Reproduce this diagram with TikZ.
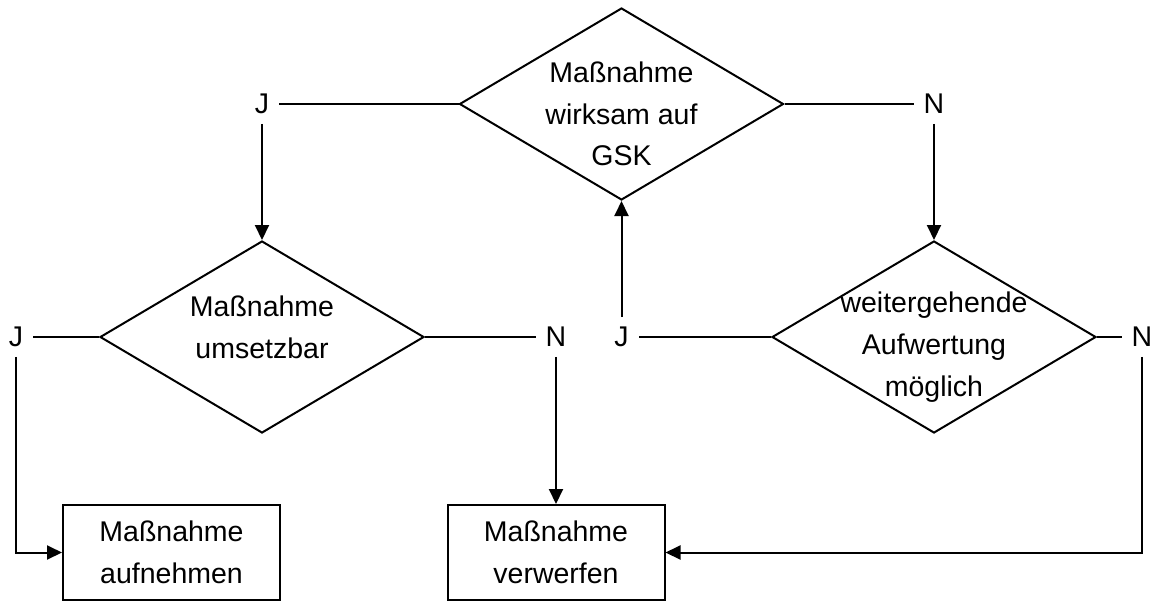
\documentclass[tikz,border=0pt]{standalone}
\usepackage{fontspec}
\newfontfamily\chartfont{Liberation Sans}
\usetikzlibrary{arrows.meta, shapes.geometric}

\begin{document}
\begin{tikzpicture}[x=1pt,y=-1pt,>={Triangle[length=15pt,width=14pt]},line width=2pt,
  every node/.style={font=\chartfont\fontsize{28.5pt}{41.7pt}\selectfont},
  decision node/.style={diamond,draw,minimum width=324pt,minimum height=192pt,inner sep=0pt},
  action node/.style={rectangle,draw,minimum width=217pt,minimum height=95pt,inner sep=0pt,align=center},
  answer node/.style={inner sep=9pt}]

  \useasboundingbox (0,0) rectangle (1160,603);

  % decisions
  \node[decision node] (W) at (621.5,104) {};
  \node[decision node] (U) at (262,337) {};
  \node[decision node] (A) at (934,337) {};
  \node[align=center] (Wtext) at ([yshift=-10pt]W.center) {Maßnahme\\wirksam auf\\GSK};
  \node[align=center] (Utext) at ([yshift=10pt]U.center) {Maßnahme\\umsetzbar};
  \node[align=center] (Atext) at ([yshift=-10pt]A.center) {weitergehende\\Aufwertung\\möglich};

  % results
  \node[action node] (K) at (171.5,552.5) {Maßnahme\\aufnehmen};
  \node[action node] (D) at (556,552.5) {Maßnahme\\verwerfen};

  % answers
  \node[answer node] (WJ) at (262,104) {J};
  \node[answer node] (WN) at (934,104) {N};
  \node[answer node] (UJ) at (16,337) {J};
  \node[answer node] (UN) at (556,337) {N};
  \node[answer node] (AJ) at (621.5,337) {J};
  \node[answer node] (AN) at (1142,337) {N};

  \draw (W.west) -- (WJ.east);
  \draw (W.east) -- (WN.west);
  \draw (U.west) -- (UJ.east);
  \draw (U.east) -- (UN.west);
  \draw (A.west) -- (AJ.east);
  \draw (A.east) -- (AN.west);

  \draw[->] (WJ.south) -- (U.north);
  \draw[->] (WN.south) -- (A.north);
  \draw[->] (AJ.north) -- (W.south);
  \draw[->] (UN.south) -- (D.north);
  \draw[->] (UJ.south) |- (K.west);
  \draw[->] (AN.south) |- (D.east);
\end{tikzpicture}
\end{document}
